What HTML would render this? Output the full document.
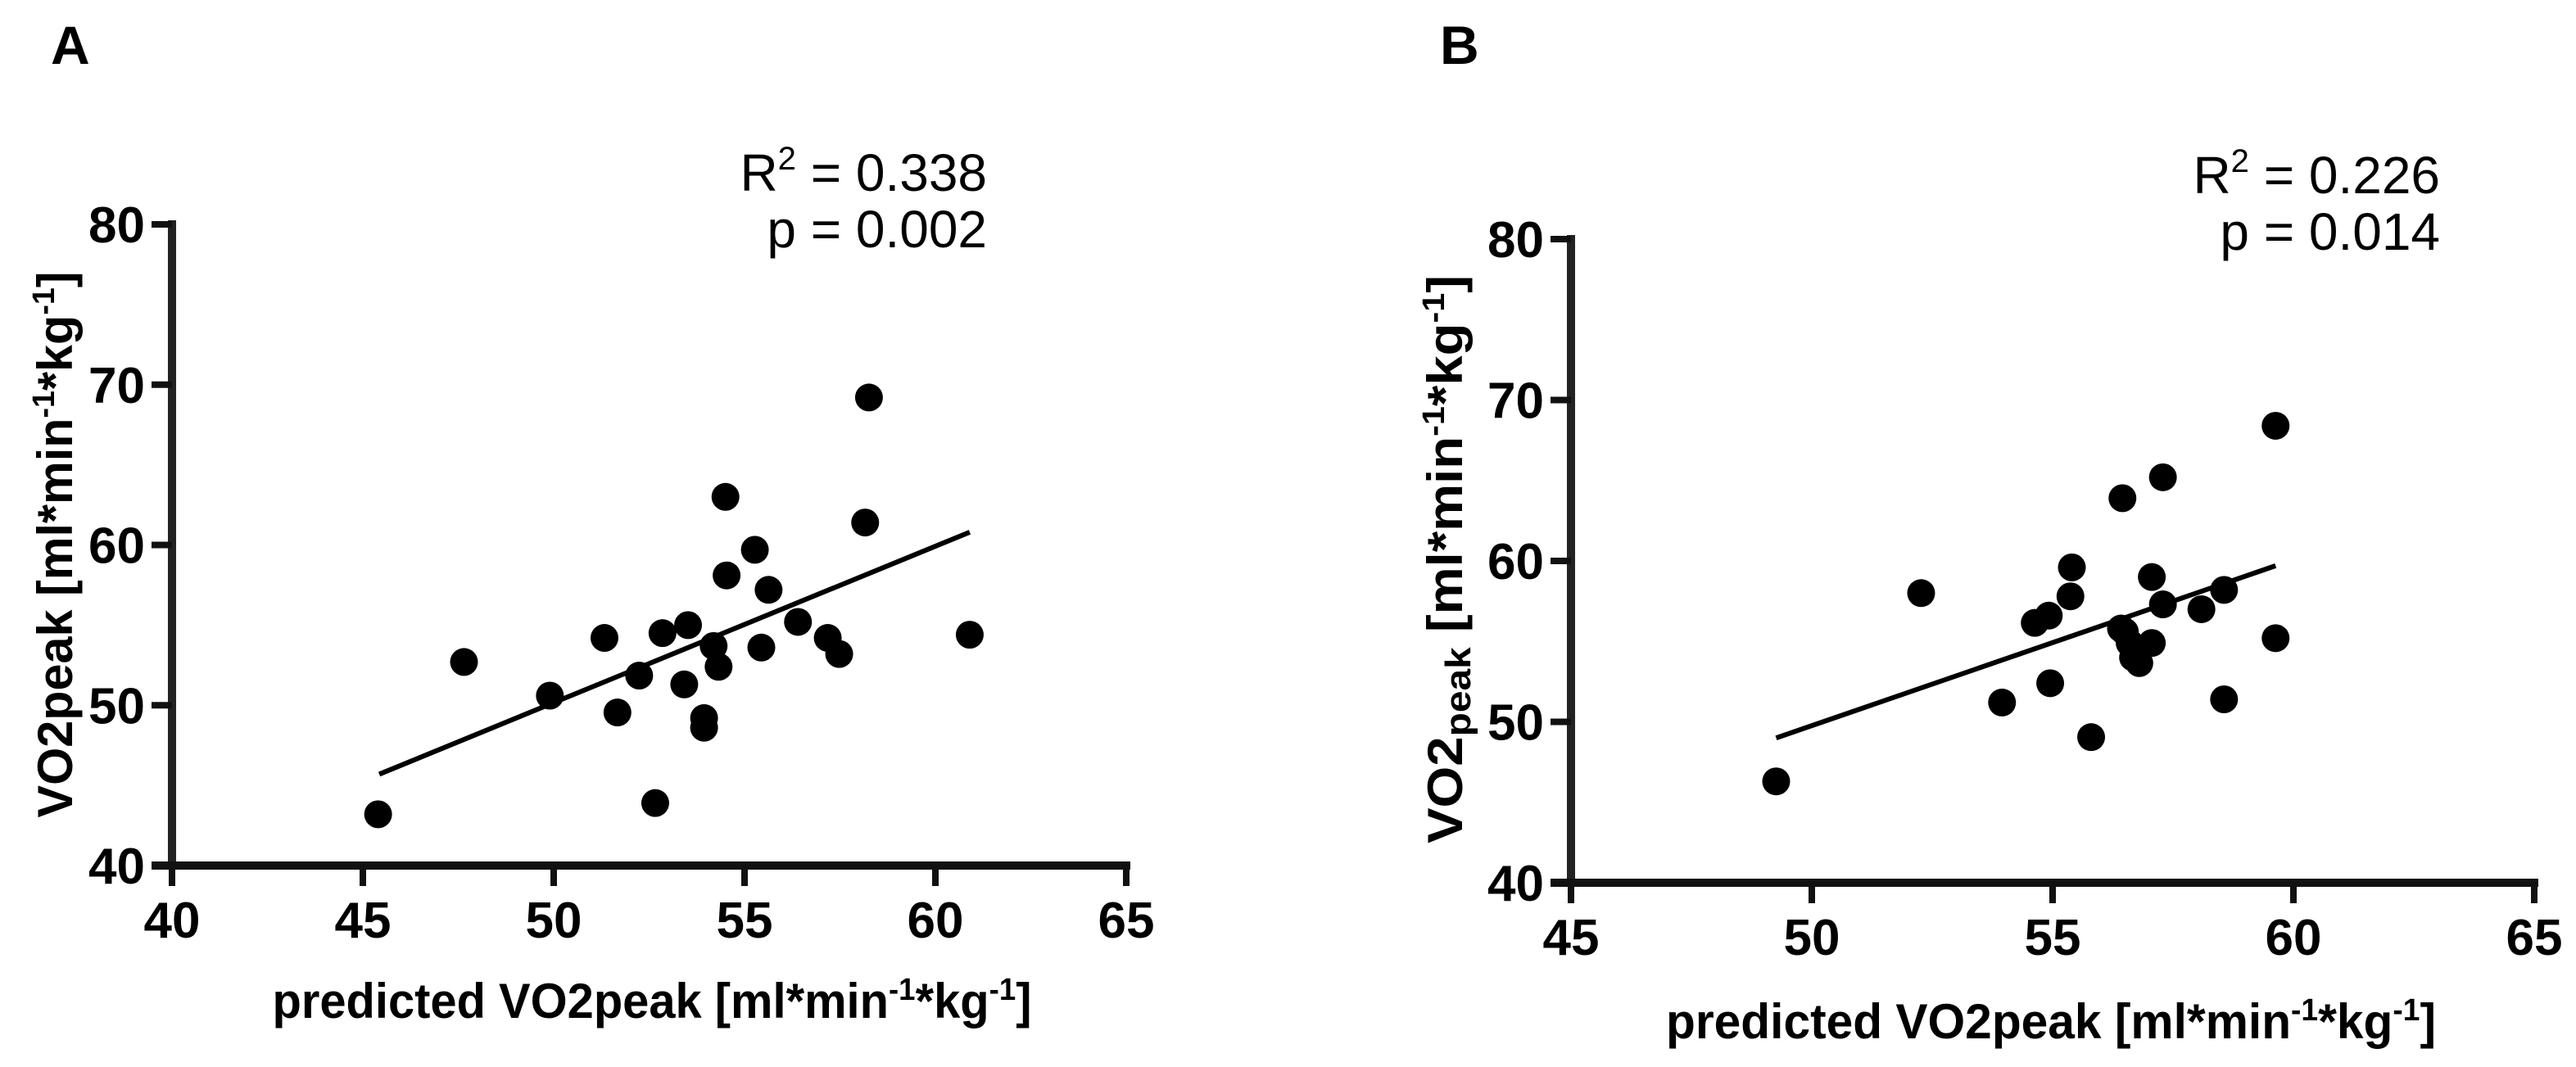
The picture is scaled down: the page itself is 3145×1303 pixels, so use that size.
<!DOCTYPE html>
<html><head><meta charset="utf-8"><style>
html,body{margin:0;padding:0;background:#fff;}
svg{display:block;font-family:"Liberation Sans",Arial,sans-serif;}
</style></head><body>
<svg id="fig" width="3145" height="1303" viewBox="0 0 3145 1303">
  <text x="62" y="78" font-size="66" font-weight="bold">A</text>
  <text x="1758" y="78" font-size="66" font-weight="bold">B</text>
  <text x="1205" y="233" font-size="64" text-anchor="end">R<tspan dy="-26" font-size="40">2</tspan><tspan dy="26"> = 0.338</tspan></text>
  <text x="1205" y="302" font-size="64" text-anchor="end">p = 0.002</text>
  <text x="2979" y="236" font-size="64" text-anchor="end">R<tspan dy="-26" font-size="40">2</tspan><tspan dy="26"> = 0.226</tspan></text>
  <text x="2979" y="305" font-size="64" text-anchor="end">p = 0.014</text>
  <text transform="translate(88,665) rotate(-90)" font-size="60" font-weight="bold" text-anchor="middle" textLength="667" lengthAdjust="spacingAndGlyphs">VO2peak [ml*min<tspan dy="-22" font-size="38">-1</tspan><tspan dy="22">*kg</tspan><tspan dy="-22" font-size="38">-1</tspan><tspan dy="22">]</tspan></text>
  <text transform="translate(1785,683) rotate(-90)" font-size="60" font-weight="bold" text-anchor="middle" textLength="694" lengthAdjust="spacingAndGlyphs">VO2<tspan font-size="44" dy="10">peak</tspan><tspan dy="-10"> [ml*min</tspan><tspan dy="-22" font-size="38">-1</tspan><tspan dy="22">*kg</tspan><tspan dy="-22" font-size="38">-1</tspan><tspan dy="22">]</tspan></text>
  <text x="796" y="1243" font-size="60" font-weight="bold" text-anchor="middle" textLength="927" lengthAdjust="spacingAndGlyphs">predicted VO2peak [ml*min<tspan dy="-22" font-size="38">-1</tspan><tspan dy="22">*kg</tspan><tspan dy="-22" font-size="38">-1</tspan><tspan dy="22">]</tspan></text>
  <text x="2504" y="1268" font-size="60" font-weight="bold" text-anchor="middle" textLength="940" lengthAdjust="spacingAndGlyphs">predicted VO2peak [ml*min<tspan dy="-22" font-size="38">-1</tspan><tspan dy="22">*kg</tspan><tspan dy="-22" font-size="38">-1</tspan><tspan dy="22">]</tspan></text>
  <g id="ga"></g>
  <g id="gb"></g>
</svg>
<script>
const aX = [45.4,47.65,49.9,51.33,51.67,52.24,52.85,53.52,53.42,53.94,53.94,54.19,54.32,54.5,54.53,55.27,55.44,55.63,56.4,57.18,57.48,58.16,58.26,60.9,52.66];
const aY = [43.2,52.7,50.6,54.2,49.55,51.85,54.5,55.0,51.3,49.2,48.6,53.7,52.4,63.0,58.1,59.7,53.6,57.2,55.2,54.2,53.2,61.4,69.2,54.4,43.9];
const aFitX = [45.43,60.9];
const aFitY = [45.7,60.8];
const aXTicks = [40,45,50,55,60,65];
const aYTicks = [40,50,60,70,80];

const bX = [49.26,52.27,53.95,54.63,54.92,54.95,55.4,55.37,55.8,56.45,56.42,56.6,56.67,56.8,57.06,57.06,57.29,57.29,58.09,58.56,58.56,59.63,59.63,56.5];
const bY = [46.3,58.0,51.2,56.15,56.6,52.4,59.6,57.8,49.05,63.9,55.8,54.9,54.0,53.65,54.9,59.0,57.3,65.2,57.0,58.2,51.4,68.4,55.2,55.6];
const bFitX = [49.26,59.63];
const bFitY = [49.0,59.7];
const bXTicks = [45,50,55,60,65];
const bYTicks = [40,50,60,70,80];

const NS = "http://www.w3.org/2000/svg";
function mk(tag, attrs, parent){const e=document.createElementNS(NS,tag);for(const k in attrs)e.setAttribute(k,attrs[k]);parent.appendChild(e);return e;}

function drawPanel(g, p, xs, ys, fx, fy, xt, yt, prefix){
  const sx = v => p.x0 + (v - p.xmin)/(p.xmax - p.xmin)*(p.x1 - p.x0);
  const sy = v => p.y0 - (v - p.ymin)/(p.ymax - p.ymin)*(p.y0 - p.y1);
  // axes
  let ya = mk('line',{x1:p.x0,y1:p.y0+5,x2:p.x0,y2:sy(yt[yt.length-1])-5,stroke:'#222','stroke-width':10},g);
  
  
  let xa = mk('line',{x1:p.x0-25,y1:p.y0,x2:sx(xt[xt.length-1])+5,y2:p.y0,stroke:'#111','stroke-width':10},g);
  
  
  xt.forEach(t=>{
    const x=sx(t);
    const tk=mk('line',{x1:x,y1:p.y0,x2:x,y2:p.y0+25,stroke:'#111','stroke-width':8},g);
    
    
    const tl=mk('text',{x:x,y:p.y0+88,'font-size':62,'font-weight':'bold','text-anchor':'middle'},g);
    tl.textContent=t;
    
    
  });
  yt.forEach(t=>{
    const y=sy(t);
    const tk=mk('line',{x1:p.x0-25,y1:y,x2:p.x0,y2:y,stroke:'#111','stroke-width':8},g);
    
    
    const tl=mk('text',{x:p.x0-33,y:y+22,'font-size':62,'font-weight':'bold','text-anchor':'end'},g);
    tl.textContent=t;
    
    
  });
  const fl=mk('line',{x1:sx(fx[0]),y1:sy(fy[0]),x2:sx(fx[1]),y2:sy(fy[1]),stroke:'#000','stroke-width':6},g);
  
  
  xs.forEach((v,i)=>{
    const c=mk('circle',{cx:sx(v),cy:sy(ys[i]),r:17,fill:'#000'},g);
    
    
  });
}
drawPanel(document.getElementById('ga'),{x0:210,x1:1375,xmin:40,xmax:65,y0:1057,y1:274,ymin:40,ymax:80},aX,aY,aFitX,aFitY,aXTicks,aYTicks,'panel-a');
drawPanel(document.getElementById('gb'),{x0:1918,x1:3094,xmin:45,xmax:65,y0:1078,y1:292,ymin:40,ymax:80},bX,bY,bFitX,bFitY,bXTicks,bYTicks,'panel-b');
</script>
</body></html>
